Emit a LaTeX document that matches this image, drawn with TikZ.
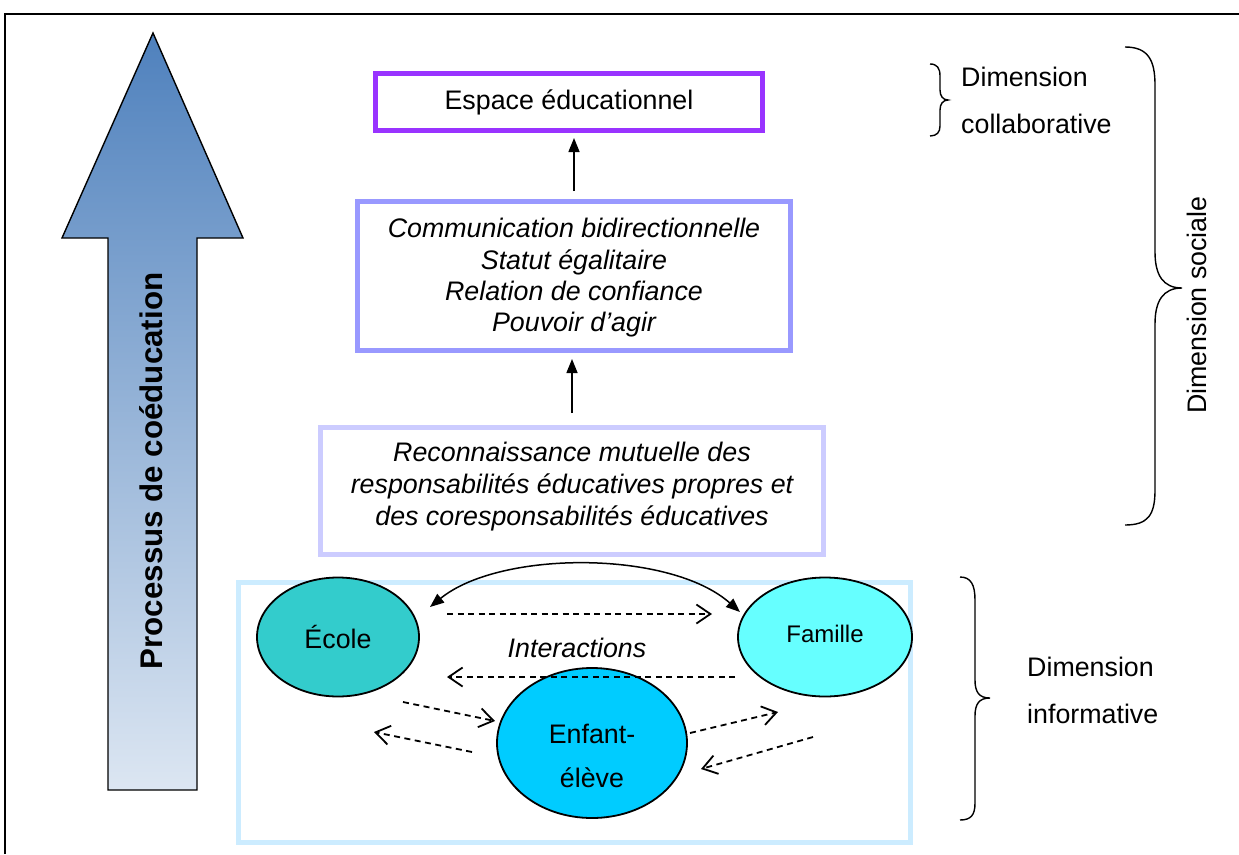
\documentclass[tikz,border=0pt]{standalone}
\usepackage{fontspec}
\setmainfont{Liberation Sans}
\usetikzlibrary{arrows.meta,shapes.geometric,calc}
\definecolor{espc}{HTML}{9933FF}
\definecolor{comc}{HTML}{9999FF}
\definecolor{recc}{HTML}{CCCCFF}
\definecolor{infc}{HTML}{CCECFF}
\definecolor{ecolec}{HTML}{33CCCC}
\definecolor{famc}{HTML}{66FFFF}
\definecolor{enfc}{HTML}{00CCFF}
\definecolor{arrtop}{HTML}{4F81BD}
\definecolor{arrbot}{HTML}{DCE6F2}
\begin{document}
\begin{tikzpicture}[x=1pt,y=-1pt,
  txt/.style={font=\fontsize{26.8}{31.3}\selectfont, inner sep=0pt, align=center},
  itxt/.style={font=\fontsize{26.8}{31.3}\selectfont\itshape, inner sep=0pt, align=center},
  boxc/.style={draw=#1, line width=5pt, inner sep=0pt},
  ell/.style={ellipse, draw=black, line width=1.8pt, fill=#1, inner sep=0pt},
  uparr/.style={line width=1.5pt, -{Triangle[length=14pt,width=11pt]}},
  dblarr/.style={line width=1.5pt, {Triangle[length=14pt,width=11pt]}-{Triangle[length=14pt,width=11pt]}},
  dasharr/.style={line width=1.8pt, dash pattern=on 6pt off 4.5pt, -{Straight Barb[length=14pt,width=19pt]}},
  bracestyle/.style={line width=1.4pt}
]
\useasboundingbox (0,0) rectangle (1239,854);
% outer frame
\draw[line width=2pt] (5,854) -- (5,14) -- (1239,14);

% big arrow
\path[top color=arrtop, bottom color=arrbot, draw=black, line width=1.4pt]
  (108,790) -- (108,238) -- (62,238) -- (153,33) -- (243,238) -- (197,238) -- (197,790) -- cycle;
\node[rotate=90, inner sep=0pt, font=\bfseries\fontsize{31.3}{31.3}\selectfont] (proc) at (151,471) {Processus de coéducation};

% boxes
\node[boxc=espc, minimum width=387pt, minimum height=57pt, txt] (esp) at (569,102) {Espace éducationnel};
\node[boxc=comc, minimum width=433pt, minimum height=149pt] (com) at (574,276) {};
\node[itxt] (comt) at (574,278) {Communication bidirectionnelle\\Statut égalitaire\\Relation de confiance\\Pouvoir d’agir};
\node[boxc=recc, minimum width=503pt, minimum height=127pt] (rec) at (572,491) {};
\node[itxt, font=\fontsize{26.8}{32}\selectfont\itshape] (rect) at (572,487) {Reconnaissance mutuelle des\\responsabilités éducatives propres et\\des coresponsabilités éducatives};
\node[boxc=infc, minimum width=672pt, minimum height=260pt] (inf) at (574.5,712.5) {};

\draw[uparr, shorten <=8pt, shorten >=5pt] (com.north) -- (com.north |- esp.south);
\draw[uparr, shorten <=12pt, shorten >=6pt] (rec.north) -- (rec.north |- com.south);

% ellipses
\node[ell=ecolec, minimum width=162pt, minimum height=119pt] (ecole) at (338,637) {};
\node[ell=famc, minimum width=174pt, minimum height=119pt] (famille) at (825,637) {};
\node[ell=enfc, minimum width=190pt, minimum height=150pt] (enfant) at (592,743) {};
\node[txt] (ecolet) at (338,637) {École};
\node[txt, font=\fontsize{24}{28}\selectfont] (famillet) at (825,634) {Famille};
\node[txt, font=\fontsize{26.8}{44}\selectfont] (enfantt) at (592,756) {Enfant-\\élève};
\node[itxt] (inter) at (577,648) {Interactions};

% curved double arrow
\coordinate (ca) at (430,607);
\coordinate (cb) at (740,612);
\draw[dblarr] (ca) .. controls (500,550) and (670,550) .. (cb);

% dashed arrows
\coordinate (d1a) at (447,614); \coordinate (d1b) at (712,614);
\coordinate (d2a) at (735,677); \coordinate (d2b) at (447,677);
\coordinate (d3a) at (403,702); \coordinate (d3b) at (495,721);
\coordinate (d4a) at (472,752); \coordinate (d4b) at (374,732);
\coordinate (d5a) at (690,733); \coordinate (d5b) at (778,712);
\coordinate (d6a) at (813,737); \coordinate (d6b) at (701,769);
\draw[dasharr] (d1a) -- (d1b);
\draw[dasharr] (d2a) -- (d2b);
\draw[dasharr] (d3a) -- (d3b);
\draw[dasharr] (d4a) -- (d4b);
\draw[dasharr] (d5a) -- (d5b);
\draw[dasharr] (d6a) -- (d6b);

% braces
\draw[bracestyle] (930,64) .. controls (937,64) and (940,68) .. (940,76) -- (940,90)
  .. controls (940,96) and (943,100) .. (948,100)
  .. controls (943,100) and (940,104) .. (940,110) -- (940,126)
  .. controls (940,132) and (937,136) .. (930,136);
\draw[bracestyle] (1125,47) .. controls (1148,47) and (1155,60) .. (1155,85) -- (1155,252)
  .. controls (1155,275) and (1163,288) .. (1182,288)
  .. controls (1163,288) and (1155,301) .. (1155,324) -- (1155,490)
  .. controls (1155,515) and (1148,525) .. (1125,525);
\draw[bracestyle] (960,577) .. controls (971,577) and (975,585) .. (975,600) -- (975,680)
  .. controls (975,692) and (979,698) .. (990,698)
  .. controls (979,698) and (975,704) .. (975,716) -- (975,803)
  .. controls (975,815) and (971,820) .. (960,820);

% right texts
\node[txt, anchor=west, align=left, font=\fontsize{26.8}{47}\selectfont] (dcol) at (961,100) {Dimension\\collaborative};
\node[txt, anchor=west, align=left, font=\fontsize{26.8}{47}\selectfont] (dinf) at (1027,690) {Dimension\\informative};
\node[txt, rotate=90] (dsoc) at (1197,305) {Dimension sociale};
\end{tikzpicture}
\end{document}
